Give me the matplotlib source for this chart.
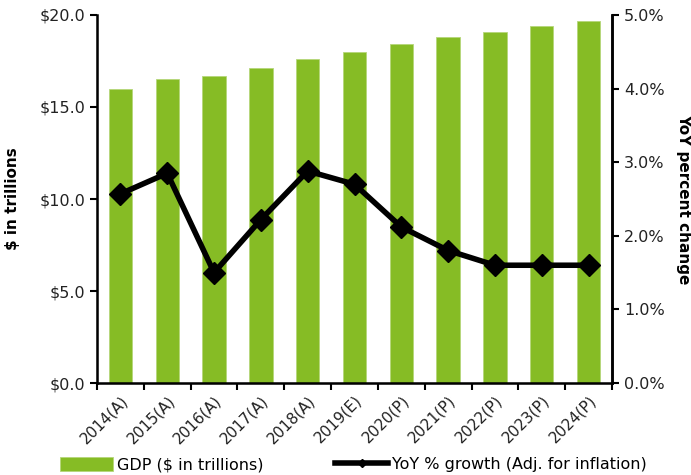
import matplotlib
matplotlib.use("Agg")
import matplotlib.pyplot as plt
import numpy as np
from matplotlib.ticker import FuncFormatter, MultipleLocator, FixedLocator
from matplotlib.lines import Line2D

years = ["2014(A)", "2015(A)", "2016(A)", "2017(A)", "2018(A)", "2019(E)",
         "2020(P)", "2021(P)", "2022(P)", "2023(P)", "2024(P)"]
gdp = [16.0, 16.5, 16.7, 17.1, 17.6, 18.0, 18.4, 18.8, 19.1, 19.4, 19.7]
growth = [2.57, 2.85, 1.5, 2.22, 2.88, 2.7, 2.12, 1.8, 1.6, 1.6, 1.6]

green = "#86BC25"
plt.rcParams['font.family'] = ['DejaVu Sans']
fs = 11.5

fig = plt.figure(figsize=(6.91, 4.75), dpi=100)
ax = fig.add_axes([97/691, 1-383/475, (612-97)/691, (383-15)/475])
x = np.arange(len(years))
bars = ax.bar(x, gdp, width=0.5, color=green, edgecolor="#b5d77a", linewidth=0.6,
              label="GDP ($ in trillions)", zorder=2)
ax.set_xlim(-0.5, len(years)-0.5)
ax.set_ylim(0, 20)
ax.yaxis.set_major_locator(MultipleLocator(5))
ax.yaxis.set_major_formatter(FuncFormatter(lambda v, p: f"${v:.1f}"))
ax.set_xticks(x)
ax.set_xticklabels(years, rotation=45, ha="right", rotation_mode="anchor", fontsize=11, color="#222222")
ax.tick_params(axis="x", which="major", length=0, pad=7)
ax.xaxis.set_minor_locator(FixedLocator(np.arange(-0.5, len(years), 1.0)))
ax.tick_params(axis="x", which="minor", length=5, width=1.5, direction="out")
ax.tick_params(axis="y", length=5, width=1.5, direction="out", labelsize=fs, labelcolor="#222222")
ax.set_ylabel("$ in trillions", fontweight="bold", fontsize=11)
ax.yaxis.set_label_coords(-0.15, 0.5)
ax.spines["top"].set_visible(False)
for s in ["left", "bottom", "right"]:
    ax.spines[s].set_linewidth(1.8)

ax2 = ax.twinx()
line, = ax2.plot(x, growth, color="black", lw=4, marker="D", markersize=11,
                 label="YoY % growth (Adj. for inflation)", zorder=3)
ax2.set_ylim(0, 5)
ax2.yaxis.set_major_locator(MultipleLocator(1))
ax2.yaxis.set_major_formatter(FuncFormatter(lambda v, p: f"{v:.1f}%"))
ax2.tick_params(axis="y", length=5, width=1.5, direction="out", labelsize=fs, labelcolor="#222222")
ax2.set_ylabel("YoY percent change", fontweight="bold", fontsize=11, rotation=-90, va="center")
ax2.yaxis.set_label_coords(1.14, 0.5)
ax2.spines["top"].set_visible(False)
ax2.spines["right"].set_linewidth(1.8)

lh = Line2D([0], [0], color="black", lw=4, marker="D", markersize=4)
fig.legend([bars, lh], ["GDP ($ in trillions)", "YoY % growth (Adj. for inflation)"],
           loc="lower left", bbox_to_anchor=(46/691, -0.025), ncol=2, frameon=False,
           fontsize=fs, handlelength=3.3, handleheight=0.9, columnspacing=4.5, handletextpad=0.25)

fig.savefig("out.png", dpi=100)
